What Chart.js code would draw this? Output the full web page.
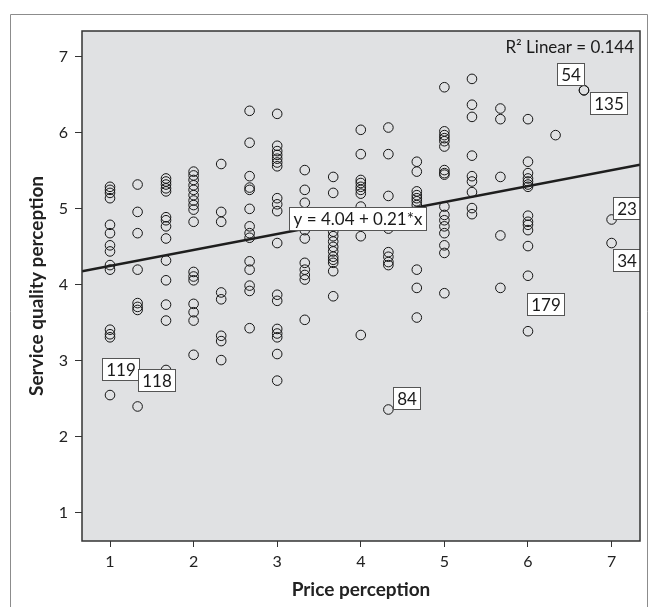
<!DOCTYPE html>
<html>
<head>
<meta charset="utf-8">
<script src="https://cdn.jsdelivr.net/npm/chart.js@4.4.1/dist/chart.umd.min.js"></script>
<style>
  html, body { margin: 0; padding: 0; background: #ffffff; }
  #wrap { position: relative; width: 649px; height: 607px; }
</style>
</head>
<body>
<div id="wrap"><canvas id="c"></canvas></div>
<script>
// ---------- DATA ----------
const priceLevels = [1, 1.33, 1.67, 2, 2.33, 2.67, 3, 3.33, 3.67, 4, 4.33, 4.67, 5, 5.33, 5.67, 6, 6.33, 6.67, 7];

const svcAt1_00 = [5.29, 5.25, 5.21, 5.14, 4.79, 4.68, 4.52, 4.44, 4.26, 4.20, 3.41, 3.35, 3.31, 2.55];
const svcAt1_33 = [5.32, 4.96, 4.68, 4.20, 3.76, 3.71, 3.67, 2.40];
const svcAt1_67 = [5.40, 5.36, 5.32, 5.27, 5.23, 4.89, 4.85, 4.77, 4.61, 4.32, 4.06, 3.74, 3.53, 2.88];
const svcAt2_00 = [5.49, 5.44, 5.38, 5.31, 5.25, 5.18, 5.11, 5.05, 4.99, 4.83, 4.17, 4.11, 4.06, 3.75, 3.64, 3.53, 3.08];
const svcAt2_33 = [5.59, 4.96, 4.83, 3.90, 3.81, 3.33, 3.26, 3.01];
const svcAt2_67 = [6.29, 5.87, 5.43, 5.28, 5.25, 5.00, 4.77, 4.68, 4.62, 4.31, 4.20, 3.99, 3.92, 3.43];
const svcAt3_00 = [6.25, 5.83, 5.76, 5.71, 5.66, 5.61, 5.56, 5.14, 5.06, 4.97, 4.55, 3.87, 3.79, 3.42, 3.36, 3.31, 3.09, 2.74];
const svcAt3_33 = [5.51, 5.25, 5.08, 4.72, 4.61, 4.29, 4.20, 4.13, 4.07, 3.54];
const svcAt3_67 = [5.42, 5.21, 4.77, 4.70, 4.64, 4.57, 4.50, 4.44, 4.37, 4.33, 4.29, 4.18, 3.85];
const svcAt4_00 = [6.04, 5.72, 5.38, 5.34, 5.29, 5.25, 5.20, 5.03, 4.64, 3.34];
const svcAt4_33 = [6.07, 5.72, 5.17, 4.85, 4.74, 4.43, 4.37, 4.30, 4.26, 2.36];
const svcAt4_67 = [5.62, 5.49, 5.23, 5.18, 5.14, 5.10, 5.05, 4.20, 3.96, 3.57];
const svcAt5_00 = [6.60, 6.02, 5.97, 5.93, 5.89, 5.82, 5.51, 5.47, 5.45, 5.03, 4.92, 4.85, 4.77, 4.68, 4.52, 4.42, 3.89];
const svcAt5_33 = [6.71, 6.37, 6.21, 5.70, 5.43, 5.36, 5.22, 5.01, 4.93];
const svcAt5_67 = [6.32, 6.18, 5.42, 4.65, 3.96];
const svcAt6_00 = [6.18, 5.62, 5.47, 5.40, 5.36, 5.32, 5.29, 4.91, 4.83, 4.79, 4.72, 4.51, 4.12, 3.39];
const svcAt6_33 = [5.97];
const svcAt6_67 = [6.56, 6.56];
const svcAt7_00 = [4.86, 4.55];

const serviceColumns = [svcAt1_00, svcAt1_33, svcAt1_67, svcAt2_00, svcAt2_33, svcAt2_67, svcAt3_00,
  svcAt3_33, svcAt3_67, svcAt4_00, svcAt4_33, svcAt4_67, svcAt5_00, svcAt5_33, svcAt5_67,
  svcAt6_00, svcAt6_33, svcAt6_67, svcAt7_00];

// Fit line reported on the chart
const fitIntercept = 4.04;
const fitSlope = 0.21;
const fitRSquared = 0.144;

// Labelled cases
const caseIds = ['54', '135', '23', '34', '179', '84', '119', '118'];
const caseX   = [6.67, 6.67, 7, 7, 6, 4.33, 1, 1.33];
const caseY   = [6.56, 6.56, 4.86, 4.55, 3.39, 2.36, 2.55, 2.40];

const axisTicks = [1, 2, 3, 4, 5, 6, 7];

// ---------- STYLE / LAYOUT (not data) ----------
const X_MIN = 0.665, X_MAX = 7.34, Y_MIN = 0.63, Y_MAX = 7.34;
const FONT = 'Lato, "Open Sans", sans-serif';
// box anchor: corner (ax: 0 left / 1 right, ay: 0 top / 1 bottom) placed at point + (dx, dy)
const caseBoxPlacement = {
  '54':  { dx: 0,  dy: -5,  ax: 1, ay: 1 },
  '135': { dx: 6,  dy: 2,   ax: 0, ay: 0 },
  '23':  { dx: 1,  dy: 0,   ax: 0, ay: 1 },
  '34':  { dx: 1,  dy: 6,   ax: 0, ay: 0 },
  '179': { dx: -1, dy: -16, ax: 0, ay: 1 },
  '84':  { dx: 5,  dy: -1,  ax: 0, ay: 1 },
  '119': { dx: -8, dy: -15, ax: 0, ay: 1 },
  '118': { dx: 0,  dy: -15, ax: 0, ay: 1 }
};
const eqLabelAtX = 3.96;

// ---------- BUILD ----------
const scatterPoints = [];
priceLevels.forEach((p, i) => serviceColumns[i].forEach(v => scatterPoints.push({ x: p, y: v })));
const fitPoints = [X_MIN, X_MAX].map(x => ({ x: x, y: fitIntercept + fitSlope * x }));

const decorPlugin = {
  id: 'decor',
  beforeDraw(chart) {
    const ctx = chart.ctx;
    ctx.save();
    ctx.strokeStyle = '#8c8c8c';
    ctx.lineWidth = 1;
    ctx.beginPath();
    ctx.moveTo(10.5, 620);
    ctx.lineTo(10.5, 14.5);
    ctx.lineTo(647.5, 14.5);
    ctx.lineTo(647.5, 620);
    ctx.stroke();
    ctx.restore();
  },
  beforeDatasetsDraw(chart) {
    const { ctx, chartArea: a } = chart;
    ctx.save();
    ctx.fillStyle = '#e0e1e3';
    ctx.fillRect(a.left, a.top, a.width, a.height);
    ctx.restore();
  },
  afterDatasetsDraw(chart) {
    const { ctx, chartArea: a, scales } = chart;
    const xs = scales.x, ys = scales.y;
    ctx.save();
    ctx.beginPath();
    ctx.rect(a.left, a.top, a.width, a.height);
    ctx.clip();
    // case labels
    ctx.font = '17px ' + FONT;
    ctx.textBaseline = 'middle';
    ctx.textAlign = 'center';
    caseIds.forEach((id, i) => {
      const px = xs.getPixelForValue(caseX[i]);
      const py = ys.getPixelForValue(caseY[i]);
      const pl = caseBoxPlacement[id];
      const w = Math.round(ctx.measureText(id).width) + 7;
      const h = 22;
      const bx = Math.round(px + pl.dx - pl.ax * w) + 0.5;
      const by = Math.round(py + pl.dy - pl.ay * h) + 0.5;
      ctx.fillStyle = '#ffffff';
      ctx.fillRect(bx, by, w, h);
      ctx.strokeStyle = '#555555';
      ctx.lineWidth = 1;
      ctx.strokeRect(bx, by, w, h);
      ctx.fillStyle = '#1a1a1a';
      ctx.fillText(id, bx + w / 2, by + h / 2 + 1);
    });
    // equation label
    const eq = 'y = ' + fitIntercept.toFixed(2) + ' + ' + fitSlope.toFixed(2) + '*x';
    const ex = xs.getPixelForValue(eqLabelAtX);
    const ey = ys.getPixelForValue(fitIntercept + fitSlope * eqLabelAtX);
    const ew = Math.round(ctx.measureText(eq).width) + 8;
    const eh = 23;
    const ebx = Math.round(ex - ew / 2) + 0.5, eby = Math.round(ey - eh / 2) + 0.5;
    ctx.fillStyle = '#ffffff';
    ctx.fillRect(ebx, eby, ew, eh);
    ctx.strokeStyle = '#555555';
    ctx.strokeRect(ebx, eby, ew, eh);
    ctx.fillStyle = '#1a1a1a';
    ctx.fillText(eq, ebx + ew / 2, eby + eh / 2 + 1);
    // R squared text
    ctx.textAlign = 'right';
    ctx.font = '17px ' + FONT;
    ctx.fillText('R\u00B2 Linear = ' + fitRSquared.toFixed(3), a.right - 6, a.top + 17);
    ctx.restore();
    // plot frame
    ctx.save();
    ctx.strokeStyle = '#333333';
    ctx.lineWidth = 1.5;
    ctx.strokeRect(a.left, a.top, a.width, a.height);
    ctx.restore();
  }
};

new Chart(document.getElementById('c'), {
  type: 'scatter',
  data: {
    datasets: [
      {
        type: 'line',
        data: fitPoints,
        borderColor: '#1e1e1e',
        borderWidth: 2.5,
        pointRadius: 0,
        fill: false,
        tension: 0
      },
      {
        data: scatterPoints,
        pointStyle: 'circle',
        pointRadius: 4.8,
        pointBorderWidth: 1,
        borderColor: '#151515',
        backgroundColor: 'rgba(0,0,0,0)',
        pointBackgroundColor: 'rgba(0,0,0,0)'
      }
    ]
  },
  options: {
    responsive: true,
    maintainAspectRatio: false,
    animation: false,
    events: [],
    layout: { padding: { left: 20, top: 31, right: 9, bottom: 0 } },
    plugins: { legend: { display: false }, tooltip: { enabled: false } },
    scales: {
      x: {
        type: 'linear',
        min: X_MIN, max: X_MAX,
        afterBuildTicks: s => { s.ticks = axisTicks.map(v => ({ value: v })); },
        afterFit: s => { s.height = 66; },
        border: { display: false },
        grid: { drawOnChartArea: false, drawTicks: true, tickLength: 6, color: '#333333', lineWidth: 1 },
        ticks: { color: '#222222', font: { family: FONT, size: 16 }, padding: 5, maxRotation: 0 },
        title: { display: true, text: 'Price perception', color: '#222222',
                 font: { family: FONT, size: 19, weight: 'bold' }, padding: { top: 2, bottom: 6 } }
      },
      y: {
        type: 'linear',
        min: Y_MIN, max: Y_MAX,
        afterBuildTicks: s => { s.ticks = axisTicks.map(v => ({ value: v })); },
        afterFit: s => { s.width = 62; },
        border: { display: false },
        grid: { drawOnChartArea: false, drawTicks: true, tickLength: 7, color: '#333333', lineWidth: 1 },
        ticks: { color: '#222222', font: { family: FONT, size: 16 }, padding: 7 },
        title: { display: true, text: 'Service quality perception', color: '#222222',
                 font: { family: FONT, size: 19, weight: 'bold' }, padding: { top: 5, bottom: 0 } }
      }
    }
  },
  plugins: [decorPlugin]
});
</script>
</body>
</html>
